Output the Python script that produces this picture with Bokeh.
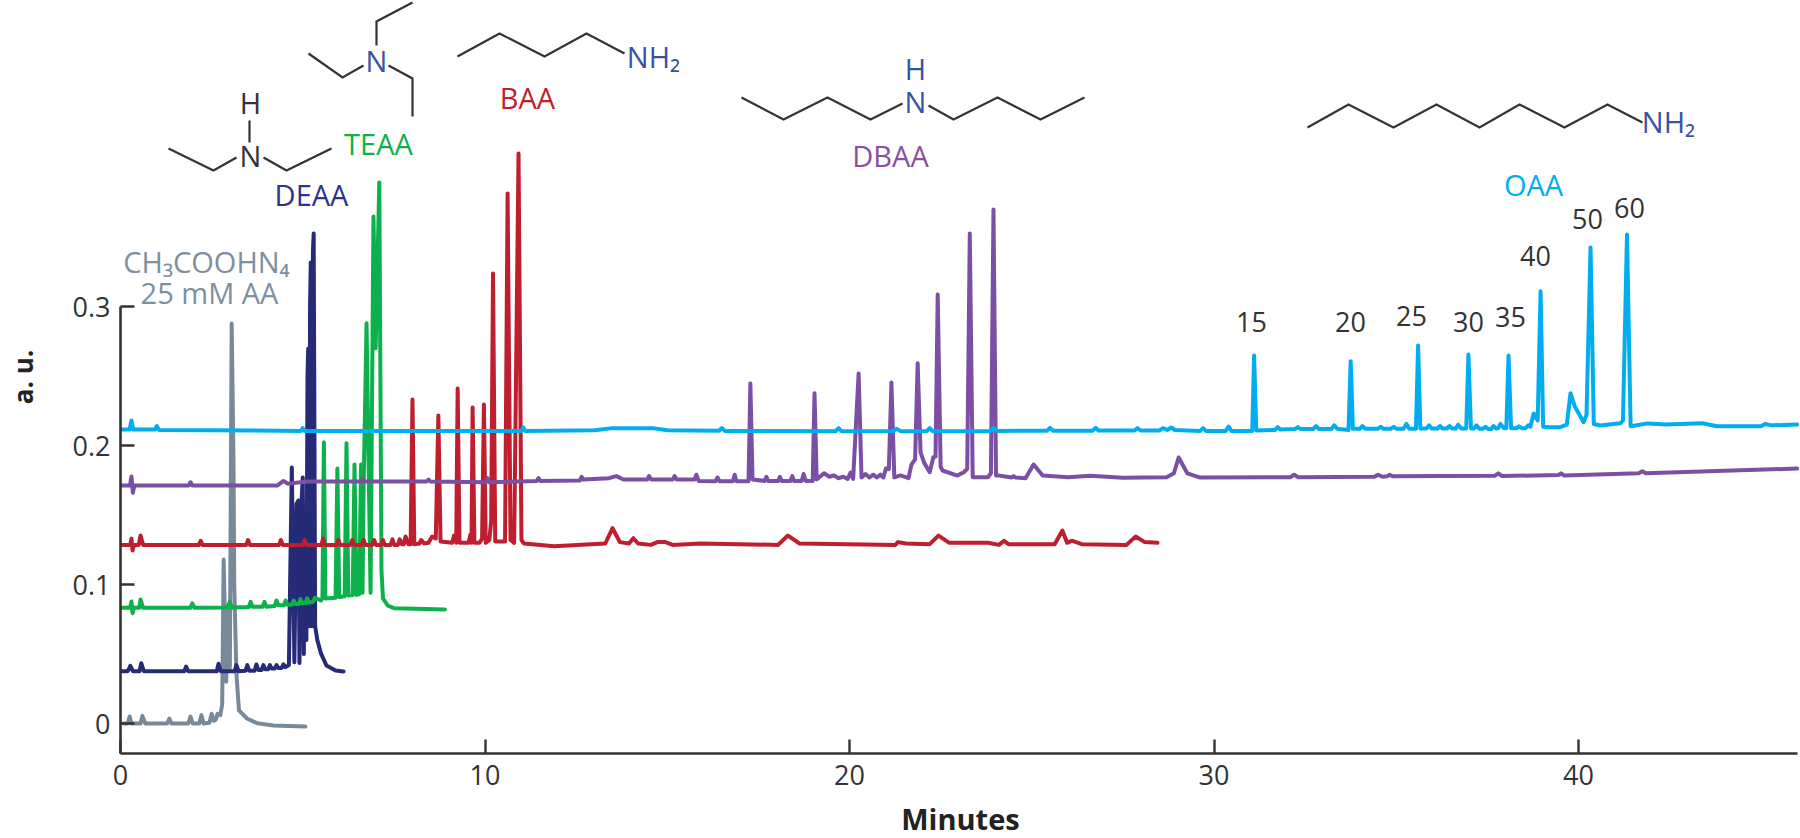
import math
from bokeh.plotting import figure
from bokeh.embed import file_html
from bokeh.resources import INLINE
from bokeh.core.properties import value
from bokeh.models import FixedTicker, Label

# ---- traces: (minutes, a.u.) ----
gray_trace = [(0.08,0),(0.2,0),(.25,.005),(.3,0),(.55,0),(.6,.0055),(.68,0),(1.28,0),(1.34,.0035),(1.4,0),(1.86,0),(1.92,.005),(1.98,0),
 (2.16,0),(2.22,.006),(2.28,0),(2.44,.0005),(2.5,.007),(2.56,.002),(2.62,.003),(2.66,.007),(2.74,.006),(2.79,.014),(2.83,.118),(2.9,.03),(2.95,.085),
 (3.0,.04),(3.05,.2878),(3.1,.19),(3.12,.1),(3.18,.036),(3.25,.0094),(3.47,.0036),(3.75,.0002),(4.2,-.0014),(5.07,-.0022)]

deaa_trace = [(0,.0376),(.2,.0376),(.27,.0415),(.34,.0376),(.52,.0376),(.57,.0434),(.64,.0376),(1.75,.0376),(1.8,.041),(1.86,.0376),
 (2.64,.0376),(2.69,.043),(2.75,.0376),(3.13,.0376),(3.18,.042),(3.24,.0376),(3.43,.038),(3.48,.042),(3.53,.038),(3.68,.038),(3.73,.0425),
 (3.78,.0385),(3.87,.0385),(3.92,.042),(3.97,.039),(4.05,.039),(4.1,.042),(4.15,.0395),(4.23,.0395),(4.28,.042),(4.33,.040),(4.42,.040),
 (4.47,.0425),(4.52,.0405),(4.62,.042),(4.7,.1841),(4.77,.044),(4.83,.158),(4.88,.1604),(4.91,.0435),(4.96,.155),(5.0,.177),(5.03,.05),(5.06,.1547),
 (5.1,.06),(5.13,.25),(5.15,.2698),(5.18,.07),(5.2,.3),(5.22,.3316),(5.25,.07),(5.28,.34),(5.3,.3525),(5.34,.07),(5.4,.0600),(5.5,.0504),(5.65,.0417),(5.9,.0381),(6.12,.0374)]

teaa_trace = [(0,.0832),(.26,.0832),(.3,.0878),(.33,.0794),(.37,.0832),(.51,.0832),(.55,.0892),(.62,.0832),(1.92,.0832),(1.97,.0865),(2.03,.0832),
 (2.95,.0835),(3.0,.0875),(3.05,.0835),(3.52,.0838),(3.57,.0875),(3.62,.084),(3.9,.084),(3.95,.0875),(4.0,.084),(4.23,.0845),(4.28,.0885),
 (4.33,.085),(4.48,.085),(4.53,.0885),(4.58,.0855),(4.7,.0855),(4.75,.0885),(4.8,.086),(4.9,.086),(4.94,.0895),(4.98,.0865),(5.08,.0865),
 (5.12,.09),(5.17,.087),(5.28,.0875),(5.34,.0905),(5.5,.0885),(5.54,.09),(5.58,.2024),(5.62,.09),(5.9,.0905),(5.95,.1834),(6.0,.091),
 (6.15,.0915),(6.2,.2017),(6.25,.092),(6.37,.0925),(6.42,.1863),(6.47,.0925),(6.55,.093),(6.6,.1863),(6.64,.094),(6.67,.17),(6.75,.288),(6.86,.094),
 (6.94,.3647),(7.0,.27),(7.1,.3892),(7.16,.11),(7.2,.09),(7.33,.0849),(7.5,.083),(7.8,.0827),(8.9,.082)]

baa_trace = [(0,.1285),(.27,.1285),(.3,.133),(.33,.1245),(.37,.1285),(.5,.1285),(.55,.1353),(.62,.1285),(2.15,.1285),(2.2,.1315),(2.25,.1285),
 (3.45,.1285),(3.5,.132),(3.55,.1285),(4.35,.1285),(4.4,.132),(4.45,.1285),(5.0,.1285),(5.05,.132),(5.1,.1285),(5.51,.1285),(5.56,.133),(5.61,.1285),
 (5.93,.1285),(5.98,.132),(6.03,.1285),(6.31,.1285),(6.36,.132),(6.41,.1285),(6.62,.1285),(6.67,.132),(6.72,.1285),(6.91,.1285),(6.96,.132),
 (7.01,.1285),(7.15,.1285),(7.2,.132),(7.25,.1285),(7.41,.1285),(7.46,.1325),(7.51,.1285),(7.61,.1285),(7.66,.1325),(7.72,.129),(7.77,.129),
 (7.82,.1345),(7.9,.129),(7.96,.129),(8.01,.2331),(8.06,.129),(8.2,.1295),(8.25,.132),(8.33,.1295),(8.45,.13),(8.55,.1345),(8.65,.133),(8.72,.2216),
 (8.78,.131),(9.1,.13),(9.15,.1353),(9.21,.13),(9.25,.241),(9.3,.13),(9.55,.13),(9.6,.136),(9.63,.13),(9.66,.2273),(9.71,.13),(9.85,.13),
 (9.92,.133),(9.97,.2295),(10.02,.13),(10.12,.132),(10.17,.146),(10.22,.3237),(10.28,.131),(10.55,.131),(10.62,.3813),(10.7,.132),(10.8,.13),
 (10.92,.4101),(11.0,.132),(11.07,.1295),(11.9,.1276),(13.3,.1295),(13.5,.1405),(13.7,.1305),(13.95,.1295),(14.07,.1333),(14.2,.1295),
 (14.55,.1285),(14.73,.1305),(14.95,.1305),(15.15,.1285),(15.9,.1295),(18.04,.1285),(18.31,.1352),(18.63,.1295),(21.26,.1285),(21.33,.1305),
 (21.55,.1295),(22.2,.129),(22.44,.1352),(22.74,.13),(23.8,.13),(24.1,.1285),(24.24,.1315),(24.36,.129),(25.63,.129),(25.84,.1388),(25.97,.13),
 (26.1,.1315),(26.37,.129),(27.6,.1285),(27.85,.1345),(28.1,.1305),(28.45,.13)]

dbaa_trace = [(0,.1712),(.26,.1712),(.3,.1777),(.34,.166),(.38,.1712),(1.87,.1712),(1.92,.1735),(1.97,.1712),(4.3,.1712),(4.47,.1745),(4.6,.1725),
 (5.1,.1741),(6.0,.1741),(6.6,.1741),(6.64,.176),(6.7,.1741),(8.4,.1741),(8.45,.1755),(8.5,.1741),(10.02,.1735),(10.07,.1765),(10.12,.1735),
 (11.42,.1745),(11.47,.1765),(11.52,.1745),(12.6,.1748),(12.65,.1775),(12.7,.1755),(13.4,.1765),(13.6,.178),(13.8,.1755),(14.45,.1755),(14.5,.178),
 (14.56,.1755),(15.15,.1755),(15.2,.178),(15.26,.1755),(15.75,.1755),(15.8,.179),(15.86,.1745),(16.33,.1743),(16.38,.177),(16.43,.1743),
 (16.8,.1743),(16.85,.179),(16.9,.1743),(17.23,.1743),(17.28,.2446),(17.34,.1755),(17.67,.1745),(17.72,.1775),(17.77,.1745),(18.04,.1745),
 (18.09,.1775),(18.14,.1745),(18.38,.1745),(18.43,.178),(18.48,.1745),(18.69,.1745),(18.74,.1795),(18.8,.1745),(18.99,.1745),(19.04,.2376),
 (19.1,.1755),(19.3,.18),(19.45,.1775),(19.57,.1785),(19.7,.1765),(19.83,.1775),(19.95,.176),(20.03,.1805),(20.1,.176),(20.25,.2518),(20.33,.177),
 (20.44,.1795),(20.55,.177),(20.65,.179),(20.75,.177),(20.85,.179),(20.93,.177),(21.0,.1835),(21.08,.183),(21.15,.2453),(21.23,.177),(21.4,.1785),
 (21.62,.1765),(21.7,.1863),(21.8,.19),(21.87,.2592),(21.95,.195),(22.05,.1875),(22.2,.1808),(22.3,.1916),(22.36,.192),(22.42,.3086),(22.5,.185),
 (22.55,.182),(22.96,.1784),(23.15,.181),(23.23,.1832),(23.3,.3525),(23.38,.1772),(23.8,.1772),(23.88,.18),(23.95,.3698),(24.02,.1785),(24.07,.1785),
 (24.45,.177),(24.5,.178),(24.55,.177),(24.83,.1765),(25.05,.1863),(25.3,.1784),(26.0,.1772),(26.6,.1782),(27.5,.1768),(28.7,.1772),(28.9,.18),
 (29.03,.1914),(29.27,.1799),(29.6,.177),(32.1,.1772),(32.2,.179),(32.3,.1772),(34.4,.1775),(34.5,.179),(34.62,.1775),(34.75,.1778),(34.82,.179),
 (34.9,.1778),(37.7,.1782),(37.8,.18),(37.9,.178),(39.45,.1788),(39.52,.18),(39.6,.1785),(41.65,.18),(41.75,.1815),(41.85,.18),(46.0,.1834)]

oaa_trace = [(0,.2115),(.25,.2115),(.3,.218),(.35,.2115),(.95,.2115),(1.0,.214),(1.05,.2112),(4.95,.2105),(5.0,.2125),(5.05,.2105),(11.0,.2105),
 (11.05,.213),(11.1,.2105),(13.0,.211),(13.5,.2125),(14.6,.2125),(15.0,.211),(16.42,.2107),(16.5,.2125),(16.58,.2105),(19.62,.2103),(19.7,.2125),
 (19.78,.2103),(21.2,.2105),(21.3,.212),(21.4,.2103),(22.12,.2103),(22.2,.2125),(22.28,.2103),(23.85,.2103),(23.95,.2125),(24.05,.2105),(25.42,.2107),
 (25.5,.2127),(25.58,.2107),(26.67,.2107),(26.75,.2127),(26.83,.2108),(27.82,.2108),(27.9,.2125),(27.98,.2108),(28.5,.2108),(28.6,.2125),(28.72,.2112),
 (28.83,.213),(28.92,.2112),(29.62,.2105),(29.7,.2125),(29.78,.2105),(30.32,.2105),(30.4,.2135),(30.48,.2105),(31.05,.2105),(31.1,.2647),(31.16,.2108),
 (31.68,.2112),(31.75,.2132),(31.82,.2115),(32.22,.2118),(32.3,.2132),(32.38,.2118),(32.72,.2118),(32.8,.214),(32.88,.2118),(33.22,.2118),(33.3,.2145),
 (33.38,.212),(33.69,.2112),(33.75,.2607),(33.81,.212),(34.0,.212),(34.07,.214),(34.15,.212),(34.5,.212),(34.57,.2135),(34.65,.212),(34.86,.212),
 (34.93,.2135),(35.0,.212),(35.2,.212),(35.28,.2155),(35.36,.212),(35.54,.212),(35.6,.272),(35.66,.2122),(35.83,.2122),(35.9,.2145),(35.97,.2122),
 (36.13,.2122),(36.2,.214),(36.27,.2122),(36.39,.2122),(36.46,.214),(36.53,.2122),(36.63,.2122),(36.7,.215),(36.78,.2122),(36.92,.2122),(36.98,.2655),
 (37.05,.2122),(37.13,.2122),(37.2,.2145),(37.28,.212),(37.38,.212),(37.45,.2135),(37.52,.2118),(37.6,.2118),(37.67,.214),(37.74,.2122),(37.8,.2125),
 (37.86,.2155),(37.95,.2125),(38.02,.2125),(38.08,.2647),(38.15,.2125),(38.3,.2125),(38.37,.2138),(38.44,.2125),(38.55,.2125),(38.62,.2145),(38.68,.2135),
 (38.77,.223),(38.88,.218),(38.96,.311),(39.03,.2135),(39.2,.2132),(39.5,.2132),(39.68,.215),(39.78,.2376),(39.9,.228),(40.14,.2168),(40.22,.222),
 (40.33,.3424),(40.42,.2155),(40.6,.2144),(41.15,.216),(41.22,.218),(41.33,.3518),(41.43,.2139),(41.9,.2159),(42.4,.2151),(43.4,.216),(43.8,.2139),
 (45.0,.2139),(45.12,.2155),(45.3,.2145),(46.0,.2151)]

structure_lines = [
 ("#333333", [168,213,236], [148,170,157]), ("#333333", [263,286,331], [157,170,148]), ("#333333", [249,249], [120,142]),
 ("#333333", [308,342,363], [53,77,65]), ("#333333", [376,376,412], [45,21,2]), ("#333333", [388,412,412], [65,78,116]),
 ("#333333", [457,499,544,586,624], [56,33,56,33,53]),
 ("#333333", [741,783,827,870,902], [97,119,97,119,103]), ("#333333", [928,953,997,1040,1084], [105,119,97,119,97]),
 ("#333333", [1307,1348,1393,1436,1479,1519,1564,1607,1642], [127,104,127,104,127,104,127,104,122]),
]
labels = [
 ("H",250,102,"#333333"),("N",250,155,"#333333"),("N",376,60,"#3953A4"),("NH₂",653,56,"#3953A4"),("H",915,68,"#3953A4"),("N",915,101,"#3953A4"),
 ("NH₂",1668,121,"#3953A4"),
 ("DEAA",311,194,"#2E3192"),("TEAA",378,143,"#0DB14B"),("BAA",527,97,"#BE1E2D"),("DBAA",890,155,"#8A4F9E"),("OAA",1533,184,"#00AEEF"),
 ("CH₃COOHN₄",206,261,"#7E8F9F"),("25 mM AA",209,292,"#7E8F9F"),
]
number_labels = [
 ("15",1251,321),("20",1350,321),("25",1411,315),("30",1468,321),("35",1510,316),("40",1535,255),("50",1587,218),("60",1629,207),
]
x_ticks = [0,10,20,30,40]
y_ticks = [0,0.1,0.2,0.3]
y_tick_labels = {0:"0",0.1:"0.1",0.2:"0.2",0.3:"0.3"}

FONT = "Open Sans"
PXM, PXA = 36.45, 1390.0
def dx(px): return (px-120)/PXM
def dy(py): return (723-py)/PXA

W, H = 1800, 838
p = figure(width=W, height=H, output_backend="svg", toolbar_location=None,
           x_range=(dx(120), dx(1800)), y_range=(dy(753), dy(0)),
           frame_width=1680, frame_height=753,
           min_border_left=120, min_border_right=0, min_border_top=0, min_border_bottom=85)
p.outline_line_color = None
p.grid.visible = False
p.background_fill_color = "white"
p.border_fill_color = "white"

for ax in (p.xaxis[0], p.yaxis[0]):
    ax.axis_line_color = "#333333"; ax.axis_line_width = 2.6
    ax.major_tick_line_color = "#333333"; ax.major_tick_line_width = 2.4
    ax.major_tick_in = 14; ax.major_tick_out = 0
    ax.minor_tick_line_color = None
    ax.major_label_text_font = FONT; ax.major_label_text_font_size = "27px"; ax.major_label_text_color = "#333333"
    ax.axis_label_text_font = FONT; ax.axis_label_text_font_style = "bold"
    ax.axis_label_text_color = "#222222"
p.xaxis[0].ticker = FixedTicker(ticks=x_ticks)
p.yaxis[0].ticker = FixedTicker(ticks=y_ticks)
p.yaxis[0].major_label_overrides = y_tick_labels
p.yaxis[0].bounds = (dy(753), 0.3)
p.xaxis[0].bounds = (0, 46)
p.xaxis[0].axis_label = "Minutes"
p.xaxis[0].axis_label_text_font_size = "29px"
p.yaxis[0].major_label_standoff = 10
p.xaxis[0].major_label_standoff = 11
p.xaxis[0].axis_label_standoff = 11
p.yaxis[0].axis_label = "a. u."
p.yaxis[0].axis_label_text_font_size = "26px"
p.yaxis[0].axis_label_standoff = 29

traces = [(gray_trace,"#78899A"),(deaa_trace,"#262B78"),(teaa_trace,"#0DB14B"),(baa_trace,"#BE1E2D"),(dbaa_trace,"#7B4FA3"),(oaa_trace,"#00AEEF")]
for tr, col in traces:
    p.line([a for a,_ in tr],[b for _,b in tr], line_color=col, line_width=4, line_join="round", line_cap="round")

for col, xs, ys in structure_lines:
    p.line([dx(v) for v in xs],[dy(v) for v in ys], line_color=col, line_width=2.2, line_join="miter")

for t, px, py, col in labels:
    p.text([dx(px)],[dy(py)], text=[t], text_color=col, text_font=value(FONT), text_font_size="29px",
           text_align="center", text_baseline="middle")
for t, px, py in number_labels:
    p.text([dx(px)],[dy(py)], text=[t], text_color="#333333", text_font=value(FONT), text_font_size="27px",
           text_align="center", text_baseline="middle")

open("out.html","w").write(file_html(p, INLINE))
